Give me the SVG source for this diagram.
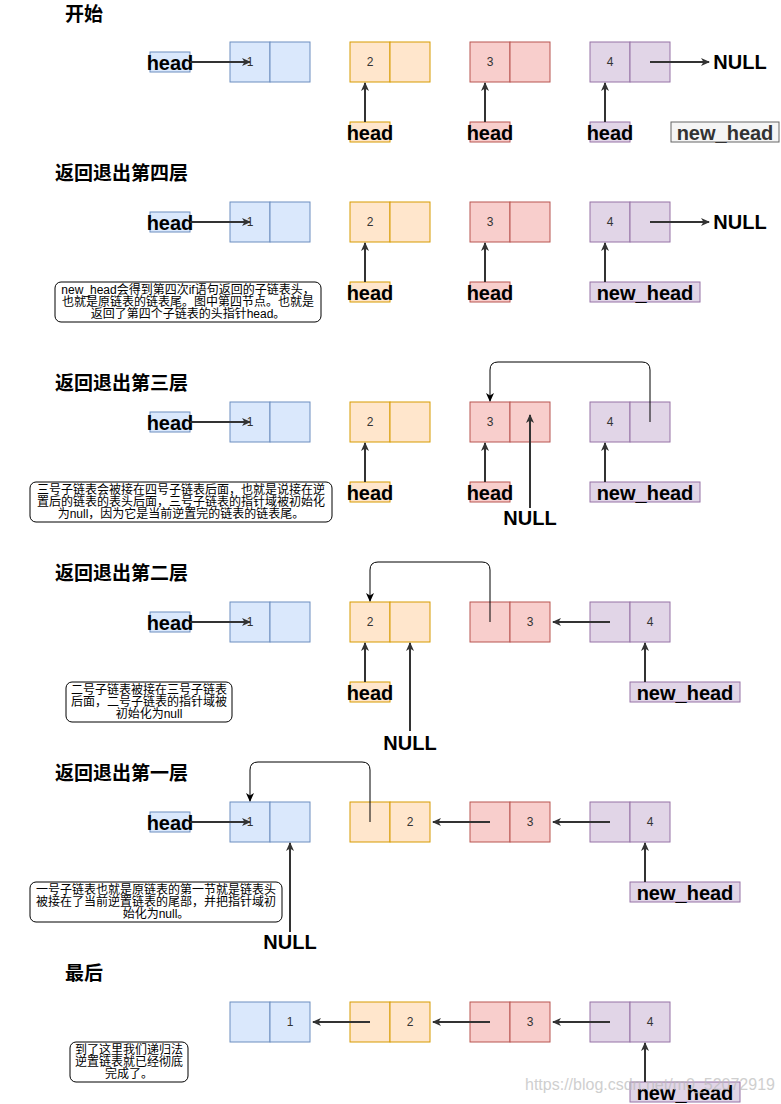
<svg xmlns="http://www.w3.org/2000/svg" width="781" height="1104" viewBox="0 0 781 1104">
<style>
text{font-family:"Liberation Sans","Noto Sans CJK SC",sans-serif;}
.b{fill:#dae8fc;stroke:#6c8ebf;stroke-width:1;}
.y{fill:#ffe6cc;stroke:#d79b00;stroke-width:1;}
.r{fill:#f8cecc;stroke:#b85450;stroke-width:1;}
.p{fill:#e1d5e7;stroke:#9673a6;stroke-width:1;}
.num{font-size:12px;fill:#333;text-anchor:middle;}
.lbl{font-size:20px;font-weight:bold;fill:#000;text-anchor:middle;}
.ttl{font-size:19px;font-weight:bold;fill:#000;}
.note{fill:#fff;stroke:#000;stroke-width:1;}
.nt{font-size:12px;fill:#000;text-anchor:middle;}
.c{fill:none;stroke:#333;stroke-width:2;marker-end:url(#a);}
.k{fill:none;stroke:#000;stroke-width:1;marker-end:url(#k);}
</style>
<defs>
<marker id="a" markerWidth="10" markerHeight="10" refX="8" refY="5" orient="auto" markerUnits="userSpaceOnUse"><path d="M0,1 L9,5 L0,9 L2.5,5 z" fill="#333"/></marker>
<marker id="k" markerWidth="10" markerHeight="10" refX="8" refY="5" orient="auto" markerUnits="userSpaceOnUse"><path d="M0,1 L9,5 L0,9 L2.5,5 z" fill="#000"/></marker>
</defs>

<!-- Titles -->
<g id="titles">
<text class="ttl" x="65" y="21">开始</text>
<text class="ttl" x="55" y="180">返回退出第四层</text>
<text class="ttl" x="55" y="390">返回退出第三层</text>
<text class="ttl" x="55" y="580">返回退出第二层</text>
<text class="ttl" x="55" y="780">返回退出第一层</text>
<text class="ttl" x="65" y="980">最后</text>
</g>

<!-- Row 1 -->
<g id="r1-n1"><rect class="b" x="230" y="42" width="40" height="40"/><rect class="b" x="270" y="42" width="40" height="40"/><text class="num" x="250" y="66">1</text></g>
<g id="r1-n2"><rect class="y" x="350" y="42" width="40" height="40"/><rect class="y" x="390" y="42" width="40" height="40"/><text class="num" x="370" y="66">2</text></g>
<g id="r1-n3"><rect class="r" x="470" y="42" width="40" height="40"/><rect class="r" x="510" y="42" width="40" height="40"/><text class="num" x="490" y="66">3</text></g>
<g id="r1-n4"><rect class="p" x="590" y="42" width="40" height="40"/><rect class="p" x="630" y="42" width="40" height="40"/><text class="num" x="610" y="66">4</text></g>
<g id="r1-head"><rect class="b" x="150" y="52" width="40" height="20"/><text class="lbl" x="170" y="69.5">head</text></g>
<g id="r1-head2"><rect class="y" x="350" y="122" width="40" height="20"/><text class="lbl" x="370" y="139.5">head</text></g>
<g id="r1-head3"><rect class="r" x="470" y="122" width="40" height="20"/><text class="lbl" x="490" y="139.5">head</text></g>
<g id="r1-head4"><rect class="p" x="590" y="122" width="40" height="20"/><text class="lbl" x="610" y="139.5">head</text></g>
<g id="r1-newhead"><rect x="671" y="122" width="108" height="20" fill="#f5f5f5" stroke="#666"/><text class="lbl" x="725" y="139.5" style="fill:#333">new_head</text></g>
<g id="r1-null"><text class="lbl" x="740" y="69">NULL</text></g>

<!-- Row 2 -->
<g id="r2-n1"><rect class="b" x="230" y="202" width="40" height="40"/><rect class="b" x="270" y="202" width="40" height="40"/><text class="num" x="250" y="226">1</text></g>
<g id="r2-n2"><rect class="y" x="350" y="202" width="40" height="40"/><rect class="y" x="390" y="202" width="40" height="40"/><text class="num" x="370" y="226">2</text></g>
<g id="r2-n3"><rect class="r" x="470" y="202" width="40" height="40"/><rect class="r" x="510" y="202" width="40" height="40"/><text class="num" x="490" y="226">3</text></g>
<g id="r2-n4"><rect class="p" x="590" y="202" width="40" height="40"/><rect class="p" x="630" y="202" width="40" height="40"/><text class="num" x="610" y="226">4</text></g>
<g id="r2-head"><rect class="b" x="150" y="212" width="40" height="20"/><text class="lbl" x="170" y="229.5">head</text></g>
<g id="r2-head2"><rect class="y" x="350" y="282" width="40" height="20"/><text class="lbl" x="370" y="299.5">head</text></g>
<g id="r2-head3"><rect class="r" x="470" y="282" width="40" height="20"/><text class="lbl" x="490" y="299.5">head</text></g>
<g id="r2-newhead"><rect class="p" x="590" y="282" width="110" height="20"/><text class="lbl" x="645" y="299.5">new_head</text></g>
<g id="r2-null"><text class="lbl" x="740" y="229">NULL</text></g>
<g id="r2-note"><rect class="note" x="55" y="282" width="266" height="40" rx="6"/>
<text class="nt" x="188" y="293.5">new_head会得到第四次if语句返回的子链表头，</text>
<text class="nt" x="188" y="305.5">也就是原链表的链表尾。图中第四节点。也就是</text>
<text class="nt" x="188" y="317.5">返回了第四个子链表的头指针head。</text></g>

<!-- Row 3 -->
<g id="r3-n1"><rect class="b" x="230" y="402" width="40" height="40"/><rect class="b" x="270" y="402" width="40" height="40"/><text class="num" x="250" y="426">1</text></g>
<g id="r3-n2"><rect class="y" x="350" y="402" width="40" height="40"/><rect class="y" x="390" y="402" width="40" height="40"/><text class="num" x="370" y="426">2</text></g>
<g id="r3-n3"><rect class="r" x="470" y="402" width="40" height="40"/><rect class="r" x="510" y="402" width="40" height="40"/><text class="num" x="490" y="426">3</text></g>
<g id="r3-n4"><rect class="p" x="590" y="402" width="40" height="40"/><rect class="p" x="630" y="402" width="40" height="40"/><text class="num" x="610" y="426">4</text></g>
<g id="r3-head"><rect class="b" x="150" y="412" width="40" height="20"/><text class="lbl" x="170" y="429.5">head</text></g>
<g id="r3-head2"><rect class="y" x="350" y="482" width="40" height="20"/><text class="lbl" x="370" y="499.5">head</text></g>
<g id="r3-head3"><rect class="r" x="470" y="482" width="40" height="20"/><text class="lbl" x="490" y="499.5">head</text></g>
<g id="r3-newhead"><rect class="p" x="590" y="482" width="110" height="20"/><text class="lbl" x="645" y="499.5">new_head</text></g>
<g id="r3-null"><text class="lbl" x="530" y="525">NULL</text></g>
<g id="r3-note"><rect class="note" x="30" y="482" width="302" height="40" rx="6"/>
<text class="nt" x="181" y="494">三号子链表会被接在四号子链表后面，也就是说接在逆</text>
<text class="nt" x="181" y="506">置后的链表的表头后面，三号子链表的指针域被初始化</text>
<text class="nt" x="181" y="518">为null，因为它是当前逆置完的链表的链表尾。</text></g>

<!-- Row 4 -->
<g id="r4-n1"><rect class="b" x="230" y="602" width="40" height="40"/><rect class="b" x="270" y="602" width="40" height="40"/><text class="num" x="250" y="626">1</text></g>
<g id="r4-n2"><rect class="y" x="350" y="602" width="40" height="40"/><rect class="y" x="390" y="602" width="40" height="40"/><text class="num" x="370" y="626">2</text></g>
<g id="r4-n3"><rect class="r" x="470" y="602" width="40" height="40"/><rect class="r" x="510" y="602" width="40" height="40"/><text class="num" x="530" y="626">3</text></g>
<g id="r4-n4"><rect class="p" x="590" y="602" width="40" height="40"/><rect class="p" x="630" y="602" width="40" height="40"/><text class="num" x="650" y="626">4</text></g>
<g id="r4-head"><rect class="b" x="150" y="612" width="40" height="20"/><text class="lbl" x="170" y="629.5">head</text></g>
<g id="r4-head2"><rect class="y" x="350" y="682" width="40" height="20"/><text class="lbl" x="370" y="699.5">head</text></g>
<g id="r4-newhead"><rect class="p" x="630" y="682" width="110" height="20"/><text class="lbl" x="685" y="699.5">new_head</text></g>
<g id="r4-null"><text class="lbl" x="410" y="750">NULL</text></g>
<g id="r4-note"><rect class="note" x="66" y="682" width="166" height="40" rx="6"/>
<text class="nt" x="149" y="694">二号子链表被接在三号子链表</text>
<text class="nt" x="149" y="706">后面，二号子链表的指针域被</text>
<text class="nt" x="149" y="718">初始化为null</text></g>

<!-- Row 5 -->
<g id="r5-n1"><rect class="b" x="230" y="802" width="40" height="40"/><rect class="b" x="270" y="802" width="40" height="40"/><text class="num" x="250" y="826">1</text></g>
<g id="r5-n2"><rect class="y" x="350" y="802" width="40" height="40"/><rect class="y" x="390" y="802" width="40" height="40"/><text class="num" x="410" y="826">2</text></g>
<g id="r5-n3"><rect class="r" x="470" y="802" width="40" height="40"/><rect class="r" x="510" y="802" width="40" height="40"/><text class="num" x="530" y="826">3</text></g>
<g id="r5-n4"><rect class="p" x="590" y="802" width="40" height="40"/><rect class="p" x="630" y="802" width="40" height="40"/><text class="num" x="650" y="826">4</text></g>
<g id="r5-head"><rect class="b" x="150" y="812" width="40" height="20"/><text class="lbl" x="170" y="829.5">head</text></g>
<g id="r5-newhead"><rect class="p" x="630" y="882" width="110" height="20"/><text class="lbl" x="685" y="899.5">new_head</text></g>
<g id="r5-null"><text class="lbl" x="290" y="949">NULL</text></g>
<g id="r5-note"><rect class="note" x="30" y="882" width="252" height="40" rx="6"/>
<text class="nt" x="156" y="894">一号子链表也就是原链表的第一节就是链表头</text>
<text class="nt" x="156" y="906">被接在了当前逆置链表的尾部，并把指针域初</text>
<text class="nt" x="156" y="918">始化为null。</text></g>

<!-- Row 6 -->
<g id="r6-n1"><rect class="b" x="230" y="1002" width="40" height="40"/><rect class="b" x="270" y="1002" width="40" height="40"/><text class="num" x="290" y="1026">1</text></g>
<g id="r6-n2"><rect class="y" x="350" y="1002" width="40" height="40"/><rect class="y" x="390" y="1002" width="40" height="40"/><text class="num" x="410" y="1026">2</text></g>
<g id="r6-n3"><rect class="r" x="470" y="1002" width="40" height="40"/><rect class="r" x="510" y="1002" width="40" height="40"/><text class="num" x="530" y="1026">3</text></g>
<g id="r6-n4"><rect class="p" x="590" y="1002" width="40" height="40"/><rect class="p" x="630" y="1002" width="40" height="40"/><text class="num" x="650" y="1026">4</text></g>
<g id="r6-newhead"><rect class="p" x="630" y="1082" width="110" height="20"/><text class="lbl" x="685" y="1099.5">new_head</text></g>
<g id="r6-note"><rect class="note" x="70" y="1042" width="118" height="40" rx="6"/>
<text class="nt" x="129" y="1054">到了这里我们递归法</text>
<text class="nt" x="129" y="1066">逆置链表就已经彻底</text>
<text class="nt" x="129" y="1078">完成了。</text></g>

<!-- Connectors -->
<g id="connectors">
<path class="c" d="M190,62 H250"/>
<path class="c" d="M365,122 V83"/>
<path class="c" d="M485,122 V83"/>
<path class="c" d="M605,122 V83"/>
<path class="c" d="M650,62 H709"/>

<path class="c" d="M190,222 H250"/>
<path class="c" d="M365,282 V243"/>
<path class="c" d="M485,282 V243"/>
<path class="c" d="M605,282 V243"/>
<path class="c" d="M650,222 H709"/>

<path class="c" d="M190,422 H250"/>
<path class="c" d="M365,482 V443"/>
<path class="c" d="M485,482 V443"/>
<path class="c" d="M605,482 V443"/>
<path class="c" d="M530,508 V415"/>
<path class="k" d="M650,422 V370 Q650,362 642,362 H498 Q490,362 490,370 V401"/>

<path class="c" d="M190,622 H250"/>
<path class="c" d="M365,682 V643"/>
<path class="c" d="M410,731 V643"/>
<path class="c" d="M645,682 V643"/>
<path class="c" d="M610,622 H553"/>
<path class="k" d="M490,622 V570 Q490,562 482,562 H378 Q370,562 370,570 V601"/>

<path class="c" d="M190,822 H250"/>
<path class="c" d="M290,932 V843"/>
<path class="c" d="M645,882 V843"/>
<path class="c" d="M490,822 H433"/>
<path class="c" d="M610,822 H553"/>
<path class="k" d="M370,822 V770 Q370,762 362,762 H258 Q250,762 250,770 V801"/>

<path class="c" d="M370,1022 H313"/>
<path class="c" d="M490,1022 H433"/>
<path class="c" d="M610,1022 H553"/>
<path class="c" d="M645,1082 V1043"/>
</g>

<text x="525" y="1090" style="font-size:16px;fill:#bbbbbb;opacity:0.7">https://blog.csdn.net/m0_52072919</text>
</svg>
